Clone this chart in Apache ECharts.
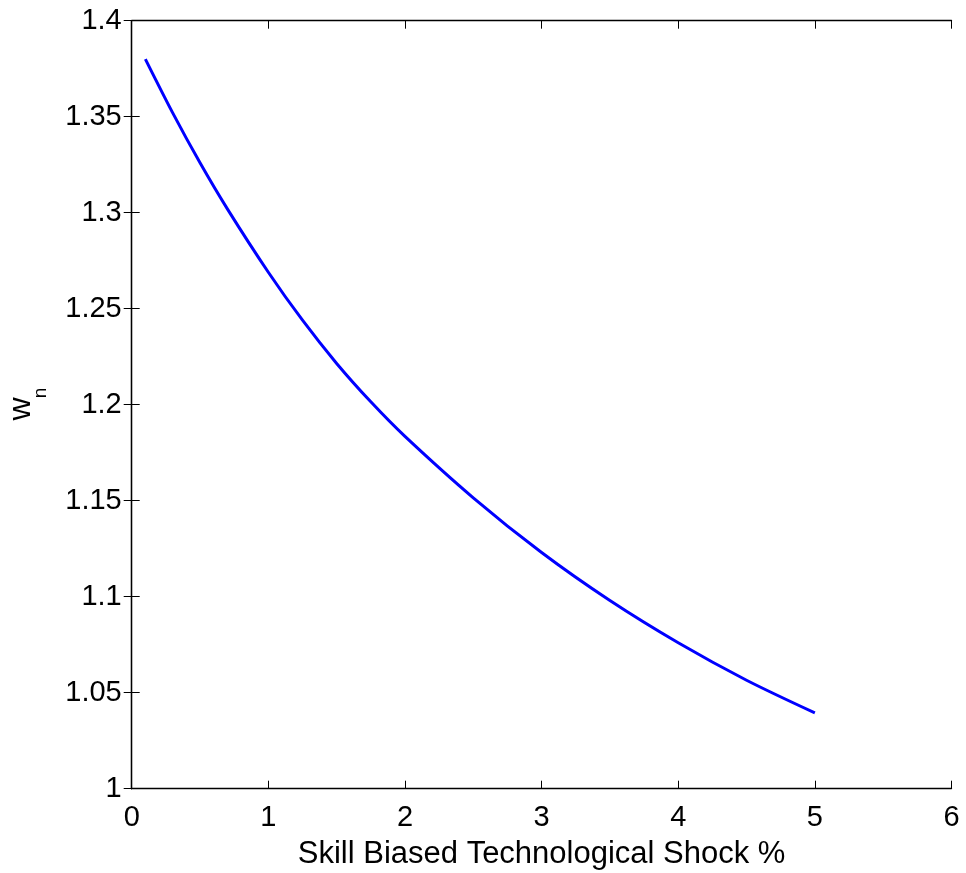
<!DOCTYPE html>
<html>
<head>
<meta charset="utf-8">
<script src="https://cdn.jsdelivr.net/npm/echarts@6/dist/echarts.min.js"></script>
<style>
html,body{margin:0;padding:0;background:#fff;}
#chart{width:966px;height:873px;}
</style>
</head>
<body>
<div id="chart"></div>
<script>
// Data
const shockPct = [0.1, 0.3, 0.5, 0.7, 1.0, 1.25, 1.5, 1.75, 2.0, 2.5, 3.0, 3.5, 4.0, 4.5, 5.0];
const wn =       [1.380, 1.352, 1.326, 1.302, 1.269, 1.244, 1.2215, 1.2015, 1.1835, 1.1515, 1.123, 1.098, 1.076, 1.0565, 1.0395];
const xTicks = [0, 1, 2, 3, 4, 5, 6];
const yTicks = [1, 1.05, 1.1, 1.15, 1.2, 1.25, 1.3, 1.35, 1.4];
const xTitle = 'Skill Biased Technological Shock %';
const yTitleMain = 'w';
const yTitleSub = 'n';

const FONT = '"Liberation Sans", Arial, Helvetica, sans-serif';
const chart = echarts.init(document.getElementById('chart'), null, {renderer: 'canvas'});

const tickStyle = {show: true, inside: true, length: 8, lineStyle: {color: '#000', width: 1}};
const lineStyle = {show: true, lineStyle: {color: '#000', width: 1.3}};

chart.setOption({
  animation: false,
  backgroundColor: '#fff',
  grid: {left: 131.7, right: 14.5, top: 20.7, bottom: 84.3, containLabel: false, outerBoundsMode: 'none'},
  graphic: [
    {type: 'text', x: 21, y: 409, rotation: Math.PI / 2, silent: true,
     style: {text: yTitleMain, fontSize: 32, fontFamily: FONT, fill: '#000',
             align: 'center', verticalAlign: 'middle', textAlign: 'center', textVerticalAlign: 'middle'}},
    {type: 'text', x: 41, y: 393, rotation: Math.PI / 2, silent: true,
     style: {text: yTitleSub, fontSize: 19, fontFamily: FONT, fill: '#000',
             align: 'center', verticalAlign: 'middle', textAlign: 'center', textVerticalAlign: 'middle'}}
  ],
  xAxis: [{
    type: 'value', position: 'bottom',
    min: xTicks[0], max: xTicks[xTicks.length - 1], interval: 1,
    axisLine: lineStyle, axisTick: tickStyle, splitLine: {show: false},
    axisLabel: {color: '#000', fontSize: 29, fontFamily: FONT, margin: 15},
    name: xTitle, nameLocation: 'middle', nameGap: 50,
    nameTextStyle: {color: '#000', fontSize: 31, fontFamily: FONT}
  }, {
    type: 'value', position: 'top',
    min: xTicks[0], max: xTicks[xTicks.length - 1], interval: 1,
    axisLine: lineStyle, axisTick: tickStyle, splitLine: {show: false},
    axisLabel: {show: false}
  }],
  yAxis: [{
    type: 'value', position: 'left',
    min: yTicks[0], max: yTicks[yTicks.length - 1], interval: 0.05,
    axisLine: lineStyle, axisTick: tickStyle, splitLine: {show: false},
    axisLabel: {color: '#000', fontSize: 29, fontFamily: FONT, margin: 10,
      formatter: v => String(Math.round(v * 100) / 100)}
  }, {
    type: 'value', position: 'right',
    min: yTicks[0], max: yTicks[yTicks.length - 1], interval: 0.05,
    axisLine: lineStyle, axisTick: tickStyle, splitLine: {show: false},
    axisLabel: {show: false}
  }],
  series: [{
    type: 'line',
    xAxisIndex: 0, yAxisIndex: 0,
    data: shockPct.map((x, i) => [x, wn[i]]),
    smooth: 0.3,
    showSymbol: false,
    lineStyle: {color: '#0000ff', width: 3},
    itemStyle: {color: '#0000ff'}
  }]
});
</script>
</body>
</html>
